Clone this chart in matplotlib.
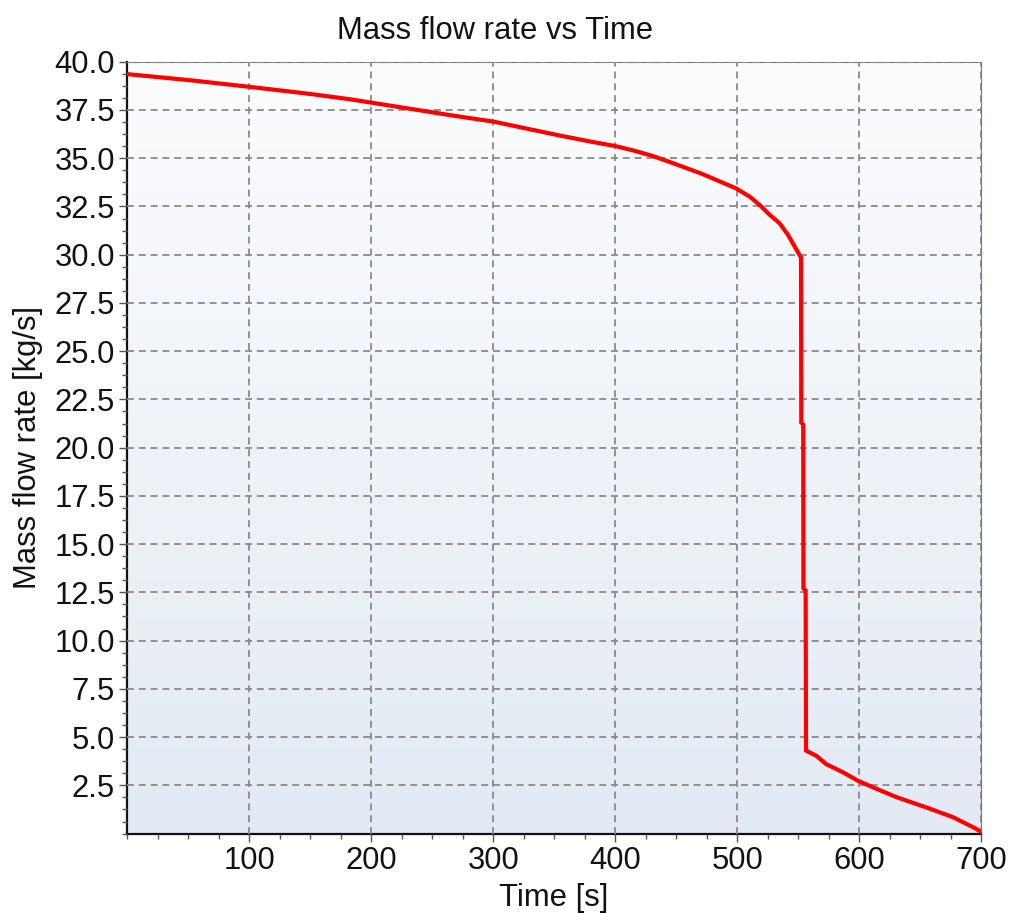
"""Mass flow rate vs time, drained-tank style curve on a gradient panel."""

import numpy as np
import matplotlib
matplotlib.use("Agg")
import matplotlib.pyplot as plt
from matplotlib.colors import LinearSegmentedColormap
from matplotlib.ticker import MultipleLocator, FixedLocator

plt.rcParams["font.family"] = ["Liberation Sans", "DejaVu Sans"]
plt.rcParams["lines.scale_dashes"] = False

# values
time_s = [1, 50, 100, 150, 183, 200, 250, 273, 300, 330, 355, 380, 400, 415,
          430, 445, 460, 470, 486, 499, 510.5, 518.6, 527, 535, 542, 547.4,
          552.4, 552.6, 554.2, 554.4, 556.2, 556.5,
          565, 573, 587, 599, 615, 631, 655, 677, 696, 700]
mass_flow = [39.35, 39.05, 38.7, 38.33, 38.05, 37.88, 37.38, 37.15, 36.9, 36.5,
             36.17, 35.86, 35.63, 35.4, 35.13, 34.8, 34.45, 34.22, 33.79,
             33.44, 33.0, 32.57, 32.05, 31.62, 31.0, 30.4,
             29.85, 21.3, 21.2, 12.7, 12.6, 4.3,
             4.03, 3.6, 3.17, 2.74, 2.3, 1.88, 1.36, 0.85, 0.25, 0.08]

X_TICKS = [100, 200, 300, 400, 500, 600, 700]
Y_TICKS = [2.5 * i for i in range(1, 17)]

FS = 22.3
TXT = "#111118"

fig = plt.figure(figsize=(10.10, 9.13), dpi=100)
ax = fig.add_axes([0.1261, 0.0870, 0.8452, 0.8454])

# vertical gradient background
grad = np.linspace(1, 0, 256).reshape(-1, 1)
cmap = LinearSegmentedColormap.from_list("bg", ["#e3eaf3", "#fbfcfe"])
ax.imshow(grad, extent=[0, 700, 0, 40], aspect="auto", cmap=cmap,
          origin="upper", zorder=0)

ax.plot(time_s, mass_flow, color="#ff0000", linewidth=3, zorder=3,
        solid_joinstyle="miter")

ax.set_xlim(0, 700)
ax.set_ylim(0, 40)
ax.xaxis.set_major_locator(FixedLocator(X_TICKS))
ax.yaxis.set_major_locator(FixedLocator(Y_TICKS))
ax.xaxis.set_minor_locator(MultipleLocator(25))
ax.yaxis.set_minor_locator(MultipleLocator(0.625))
ax.set_xticklabels([str(v) for v in X_TICKS])
ax.set_yticklabels([f"{v:.1f}" for v in Y_TICKS])

ax.grid(True, which="major", color="#8a8a8a", linewidth=1.3,
        linestyle=(0, (5, 3.5)), zorder=1)
ax.set_axisbelow(False)

ax.tick_params(which="major", direction="out", length=6, width=1,
               color="#555555", labelsize=FS, labelcolor=TXT, pad=3)
ax.tick_params(which="minor", direction="out", length=3.5, width=1,
               color="#555555")
ax.tick_params(top=False, right=False, which="both")

for side in ["left", "bottom"]:
    ax.spines[side].set_color("#111111")
    ax.spines[side].set_linewidth(1.6)
for side in ["top", "right"]:
    ax.spines[side].set_color("#777777")
    ax.spines[side].set_linewidth(0.8)

ax.set_xlabel("Time [s]", fontsize=FS, color=TXT, labelpad=5)
ax.set_ylabel("Mass flow rate [kg/s]", fontsize=FS, color=TXT, labelpad=8)
fig.text(0.49, 0.966, "Mass flow rate vs Time", fontsize=FS, color=TXT,
         ha="center", va="center")

fig.savefig("out.png", dpi=100)
plt.close(fig)
